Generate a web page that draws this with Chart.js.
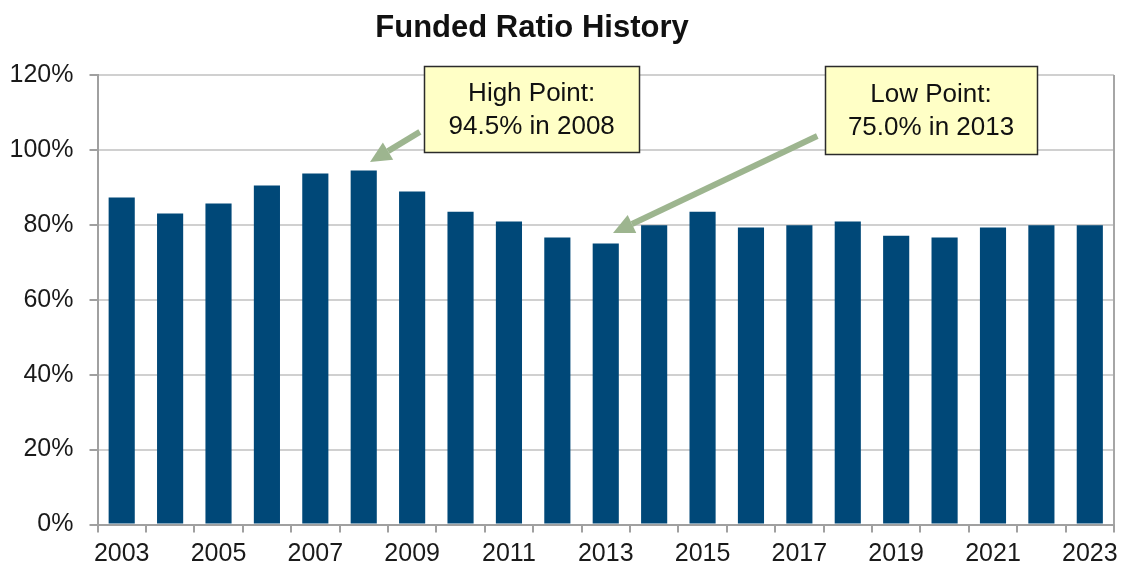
<!DOCTYPE html>
<html>
<head>
<meta charset="utf-8">
<script src="https://cdn.jsdelivr.net/npm/chart.js@4/dist/chart.umd.min.js"></script>
<style>
  html, body { margin: 0; padding: 0; background: #fff; }
  #wrap { width: 1125px; height: 572px; position: relative; }
</style>
</head>
<body>
<div id="wrap"><canvas id="c" width="1125" height="572"></canvas></div>
<script>
// ---- data ----
const years = ['2003','2004','2005','2006','2007','2008','2009','2010','2011','2012','2013',
               '2014','2015','2016','2017','2018','2019','2020','2021','2022','2023'];
const fundedRatio = [87.3, 83.0, 85.7, 90.5, 93.7, 94.5, 88.9, 83.5, 80.9, 76.6, 75.0,
                     79.9, 83.5, 79.3, 79.9, 80.9, 77.1, 76.6, 79.3, 79.9, 79.9];
const yTickValues = [0, 20, 40, 60, 80, 100, 120];
const titleText = 'Funded Ratio History';
const highNote = ['High Point:', '94.5% in 2008'];
const lowNote = ['Low Point:', '75.0% in 2013'];

// annotation placement (in axis units: category index, percent)
const notes = [
  { lines: highNote, cx: 8.47, cy: 111.0, w: 215, h: 86, from: [6.16, 104.8], to: [5.13, 96.8] },
  { lines: lowNote,  cx: 16.72, cy: 110.6, w: 212, h: 88, from: [14.37, 103.7], to: [10.15, 77.8] }
];

const FONT = '"Liberation Sans", Arial, sans-serif';

const decorPlugin = {
  id: 'decor',
  afterDraw(chart) {
    const { ctx, chartArea, scales: { x, y } } = chart;
    ctx.save();
    // right border
    ctx.strokeStyle = '#a6a6a6';
    ctx.lineWidth = 2;
    ctx.beginPath();
    ctx.moveTo(chartArea.right, chartArea.top);
    ctx.lineTo(chartArea.right, chartArea.bottom);
    ctx.stroke();

    // title
    ctx.fillStyle = '#111';
    ctx.font = 'bold 31px ' + FONT;
    ctx.textAlign = 'center';
    ctx.textBaseline = 'alphabetic';
    ctx.fillText(titleText, 532, 37);

    // arrows
    notes.forEach(n => {
      const x1 = x.getPixelForValue(n.from[0]), y1 = y.getPixelForValue(n.from[1]);
      const x2 = x.getPixelForValue(n.to[0]),   y2 = y.getPixelForValue(n.to[1]);
      const ang = Math.atan2(y2 - y1, x2 - x1);
      const headLen = 21, headHalf = 10;
      const bx = x2 - headLen * Math.cos(ang), by = y2 - headLen * Math.sin(ang);
      ctx.strokeStyle = '#9db58f';
      ctx.fillStyle = '#9db58f';
      ctx.lineWidth = 6;
      ctx.lineCap = 'butt';
      ctx.beginPath();
      ctx.moveTo(x1, y1);
      ctx.lineTo(bx, by);
      ctx.stroke();
      ctx.beginPath();
      ctx.moveTo(x2, y2);
      ctx.lineTo(bx + headHalf * Math.sin(ang), by - headHalf * Math.cos(ang));
      ctx.lineTo(bx - headHalf * Math.sin(ang), by + headHalf * Math.cos(ang));
      ctx.closePath();
      ctx.fill();
    });

    // boxes
    notes.forEach(n => {
      const cx = x.getPixelForValue(n.cx), cy = y.getPixelForValue(n.cy);
      const l = Math.round(cx - n.w / 2) + 0.5, t = Math.round(cy - n.h / 2) + 0.5;
      ctx.fillStyle = '#ffffc6';
      ctx.fillRect(l, t, n.w, n.h);
      ctx.strokeStyle = '#2b2b2b';
      ctx.lineWidth = 1.5;
      ctx.strokeRect(l, t, n.w, n.h);
      ctx.fillStyle = '#111';
      ctx.font = '26px ' + FONT;
      ctx.textAlign = 'center';
      ctx.textBaseline = 'middle';
      ctx.fillText(n.lines[0], cx, cy - 15);
      ctx.fillText(n.lines[1], cx, cy + 18);
    });
    ctx.restore();
  }
};

new Chart(document.getElementById('c'), {
  type: 'bar',
  data: {
    labels: years,
    datasets: [{
      data: fundedRatio,
      backgroundColor: '#004878',
      borderWidth: 0,
      categoryPercentage: 1.0,
      barPercentage: 0.54
    }]
  },
  options: {
    responsive: false,
    animation: false,
    devicePixelRatio: 1,
    layout: { padding: { top: 75, right: 11, bottom: 0, left: 0 } },
    plugins: { legend: { display: false }, title: { display: false }, tooltip: { enabled: false } },
    scales: {
      x: {
        offset: true,
        grid: { offset: true, drawOnChartArea: false, drawTicks: true, tickLength: 8, tickColor: '#a0a0a0', lineWidth: 2 },
        border: { display: true, color: '#a0a0a0', width: 2 },
        ticks: {
          autoSkip: false, maxRotation: 0, minRotation: 0, padding: 7,
          color: '#1a1a1a', font: { family: FONT, size: 25 },
          callback: function(v, i) { return i % 2 === 0 ? years[i] : ''; }
        },
        afterFit(scale) { scale.height = 47.5; }
      },
      y: {
        min: 0, max: 120,
        afterBuildTicks(scale) { scale.ticks = yTickValues.map(v => ({ value: v })); },
        grid: { color: '#d0d0d0', lineWidth: 2, drawTicks: true, tickLength: 8, tickColor: '#a0a0a0' },
        border: { display: true, color: '#a0a0a0', width: 2 },
        ticks: {
          padding: 16, color: '#1a1a1a', font: { family: FONT, size: 25 },
          callback: v => v + '%'
        },
        afterFit(scale) { scale.width = 97.5; }
      }
    }
  },
  plugins: [decorPlugin]
});
</script>
</body>
</html>
